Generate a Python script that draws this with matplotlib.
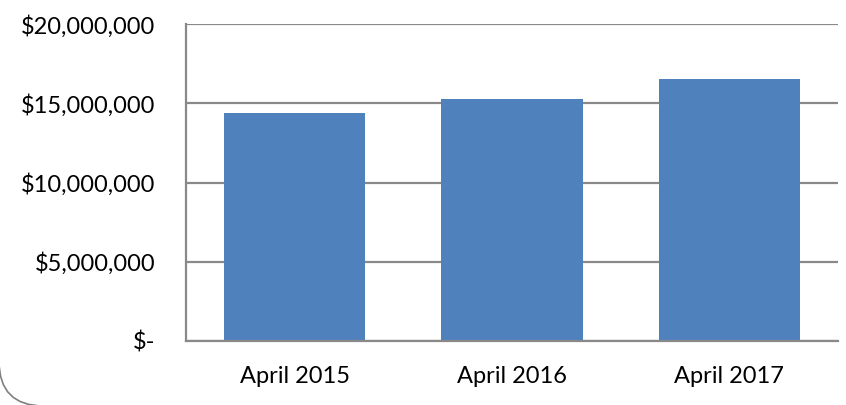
import matplotlib.pyplot as plt
from matplotlib.patches import FancyBboxPatch
from matplotlib.transforms import IdentityTransform
from matplotlib.ticker import FuncFormatter

# data
months = ['April 2015', 'April 2016', 'April 2017']
totals = [14380000, 15260000, 16550000]
y_ticks = [0, 5000000, 10000000, 15000000, 20000000]

bar_color = '#4F81BD'
grid_color = '#898989'

plt.rcParams['font.family'] = ['Lato', 'DejaVu Sans']

fig = plt.figure(figsize=(8.46, 4.05), dpi=100)
ax = fig.add_axes([186/846, 64/405, 652/846, (341-24.3)/405])

ax.bar(range(len(months)), totals, width=0.65, color=bar_color, zorder=3)

ax.set_xlim(-0.5, len(months) - 0.5)
ax.set_ylim(0, 20000000)
ax.set_yticks(y_ticks)
ax.set_xticks(range(len(months)))
ax.set_xticklabels(months)

def money(v, pos):
    if v == 0:
        return '$-'
    return '${:,.0f}'.format(v)

ax.yaxis.set_major_formatter(FuncFormatter(money))
ax.tick_params(axis='both', length=0, labelsize=17, colors='black')
ax.tick_params(axis='y', pad=22)
ax.tick_params(axis='x', pad=18)

ax.grid(axis='y', color=grid_color, linewidth=1.6, zorder=0)
for s in ['top', 'right']:
    ax.spines[s].set_visible(False)
for s in ['left', 'bottom']:
    ax.spines[s].set_color(grid_color)
    ax.spines[s].set_linewidth(1.6)
    ax.spines[s].set_zorder(4)

# rounded chart border, only the lower-left corner shows
border = FancyBboxPatch((-1, -1), 2000, 2000, boxstyle='round,pad=0,rounding_size=45',
                        transform=IdentityTransform(), fill=False,
                        edgecolor='#7f7f7f', linewidth=1.2)
fig.patches.append(border)

plt.savefig('out.png', dpi=100)
